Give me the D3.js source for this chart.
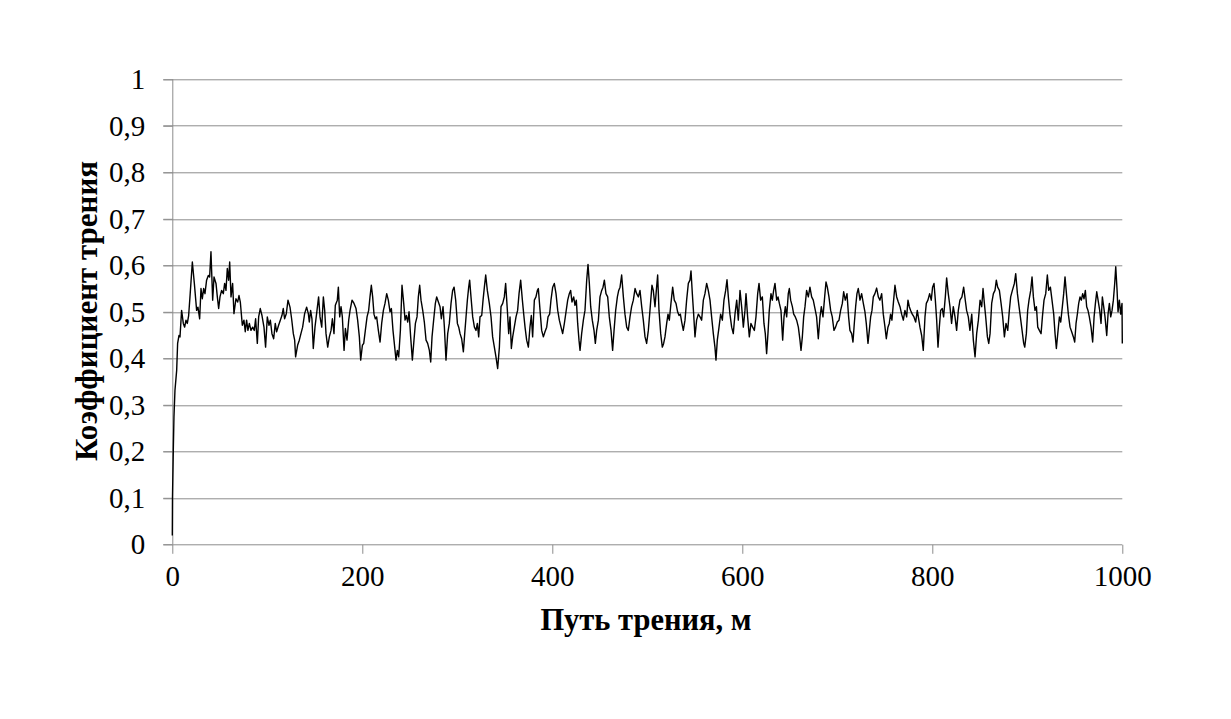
<!DOCTYPE html>
<html>
<head>
<meta charset="utf-8">
<script src="https://cdn.jsdelivr.net/npm/d3@7"></script>
<style>
  body { margin: 0; background: #fff; }
  svg text { font-family: "Liberation Serif", "Times New Roman", serif; fill: #000; }
</style>
</head>
<body>
<div id="chart"></div>
<script>
// friction test: coefficient vs sliding distance

var xTicks = [0, 200, 400, 600, 800, 1000];
var yTicks = [0, 0.1, 0.2, 0.3, 0.4, 0.5, 0.6, 0.7, 0.8, 0.9, 1];
var yTickLabels = ["0", "0,1", "0,2", "0,3", "0,4", "0,5", "0,6", "0,7", "0,8", "0,9", "1"];
var xTitle = "Путь трения, м";
var yTitle = "Коэффициент трения";

// distance, m
var pathM = [
  0, 0.2, 1.05, 1.75, 2.8, 4.6, 5.6, 7.0, 8.1, 9.8, 11.6, 13.0, 14.4, 15.8, 17.2, 18.6, 21.1, 23.2, 25.6, 27.0,
  28.8, 30.2, 31.6, 33.0, 34.4, 36.1, 37.9, 39.3, 40.7, 42.5, 43.9, 46.0, 47.4, 48.8, 50.2, 51.9, 53.7, 55.1, 56.5, 57.9,
  59.3, 60.4, 61.8, 63.5, 64.9, 67.0, 68.8, 70.2, 71.6, 73.7, 75.4, 76.8, 78.2, 79.6, 81.1, 82.8, 84.6, 86.3, 87.7, 89.5,
  90.9, 92.6, 94.4, 96.5, 98.2, 100.0, 101.8, 103.2, 104.9, 106.7, 108.4, 109.8, 111.9, 113.7, 115.4, 116.8, 118.2, 120.0, 121.8, 123.9,
  125.6, 127.4, 128.8, 129.8, 131.9, 133.7, 135.4, 137.2, 139.3, 141.4, 143.2, 144.2, 145.6, 147.0, 148.4, 150.2, 151.9, 154.0,
  155.5, 157.3, 159.0, 160.4, 161.8, 163.6, 165.3, 167.1, 168.5, 170.2, 171.6, 173.7, 174.8, 176.2, 177.6, 179.0, 180.8, 182.2, 183.9, 185.7,
  187.1, 189.2, 191.3, 193.4, 195.1, 196.9, 198.3, 200.1, 201.5, 203.2, 205.0, 206.7, 208.1, 209.5, 210.9, 212.3, 213.7, 215.1, 216.9, 218.7,
  220.4, 222.2, 223.9, 225.7, 227.4, 229.2, 230.6, 232.3, 233.7, 235.5, 236.9, 238.3, 240.1, 241.8, 243.6, 245.0, 246.4, 247.8, 249.2, 250.9,
  252.7, 254.4, 255.9, 257.6, 259.0, 260.4, 261.8, 263.6, 265.3, 267.1, 268.8, 270.6, 272.0, 273.4, 275.1, 276.9, 278.3, 280.1, 281.8, 283.2,
  285.0, 286.4, 288.1, 289.9, 291.6, 293.4, 295.1, 296.6, 298.3, 300.1, 301.5, 302.9, 304.6, 306.4, 307.8, 309.2, 310.6, 312.0, 313.0, 314.4,
  316.2, 318.0, 319.7, 321.1, 322.5, 323.9, 325.7, 327.1, 328.5, 329.9,
  331.6, 333.7, 335.5, 337.2, 339.0, 340.7, 342.5, 344.3, 346.0, 347.8, 349.5, 350.9, 352.7, 354.1, 355.5, 356.9, 358.3, 360.0, 361.8, 363.5,
  365.0, 366.7, 368.5, 369.9, 371.3, 373.0, 374.8, 376.5, 377.9, 379.3, 381.1, 382.8, 384.3, 385.3, 387.1, 388.8, 390.6, 392.3, 394.1, 395.5,
  397.2, 398.6, 400.4, 402.1, 403.9, 405.7, 407.4, 409.2, 410.9, 412.7, 414.1, 416.2, 417.9, 419.3, 420.7, 422.5, 423.9, 425.3, 426.7, 428.1,
  429.2, 430.9, 432.7, 434.4, 436.2, 437.6, 439.0, 440.4, 442.1, 443.9, 445.3, 446.7, 448.5, 450.2, 452.0, 453.4, 454.8, 456.5, 458.3, 460.0,
  461.8, 463.5, 465.0, 466.7, 468.5, 469.9, 471.3, 473.0, 474.8, 476.5, 478.3, 480.0, 481.8, 483.5, 485.3, 487.1, 488.8, 490.6, 492.3, 494.1,
  495.8, 497.6, 499.3,
  501.1, 502.8, 504.9, 506.3, 508.1, 509.8, 510.9, 512.3, 514.1, 515.8, 517.2, 518.6, 520.4, 521.8, 523.2, 524.9, 526.7, 528.4, 530.2, 531.9,
  533.4, 534.8, 536.2, 537.9, 539.7, 541.4, 543.2, 544.9, 546.0, 547.4, 548.8, 550.2, 551.9, 553.7, 555.5, 557.2, 559.0, 560.7, 562.5, 564.2,
  566.0, 567.7, 569.5, 571.2, 572.3, 573.7, 575.5, 577.2, 579.0, 580.7, 582.5, 583.9, 585.3, 587.0, 588.8, 590.5, 592.3, 594.1, 595.8, 597.6,
  599.3, 601.1, 602.8, 603.9, 605.6, 607.4, 609.1, 610.9, 612.7, 614.4, 616.2, 617.6, 619.3, 621.1, 622.8, 624.2, 625.6, 627.0, 628.4, 630.2,
  631.6, 633.0, 634.4, 636.2, 637.6, 639.0, 640.7, 642.5, 643.9, 645.3, 646.7, 648.4, 649.5, 650.9, 652.7, 654.1, 655.8, 657.2, 659.0, 660.7,
  661.8, 663.2, 664.6, 666.0, 667.7, 669.5,
  671.2, 673.0, 674.7, 676.5, 678.2, 680.0, 681.8, 683.2, 684.9, 686.7, 688.1, 689.5, 691.2, 693.0, 694.7, 696.5, 698.2, 700.0, 701.8, 703.5,
  705.3, 706.7, 708.4, 710.2, 711.9, 713.3, 715.1, 716.5, 717.9, 719.3, 720.7, 722.1, 723.9, 725.6, 727.4, 729.1, 730.5, 732.3, 733.7, 735.1,
  736.5, 737.9, 739.6, 741.4, 743.2, 744.9, 746.7, 748.4, 750.2, 751.6, 753.3, 754.7, 756.1, 757.5, 759.3, 760.7, 762.5, 764.2, 766.0, 767.7,
  769.5, 771.2, 773.0, 774.4, 775.8, 777.2, 778.9, 780.7, 782.5, 784.2, 785.3, 787.0, 788.8, 790.5, 792.3, 793.7, 795.4, 797.2, 798.9, 800.3,
  801.8, 803.2, 804.6, 806.0, 807.4, 808.8, 810.5, 811.9, 813.7, 815.1, 816.8, 818.6, 820.3, 822.1, 823.9, 825.6, 827.4, 829.1, 831.2, 833.0,
  834.7, 836.1, 837.9, 839.6,
  841.5, 843.2, 845.0, 846.7, 848.5, 850.3, 852.0, 853.4, 854.8, 856.2, 858.0, 859.4, 860.8, 862.5, 864.3, 866.0, 867.4, 868.8, 870.6, 872.4,
  874.1, 875.9, 877.6, 879.4, 881.1, 882.5, 884.3, 886.4, 887.8, 889.6, 891.3, 892.7, 894.5, 896.2, 897.3, 899.0, 900.4, 901.8, 903.6, 905.0,
  906.4, 908.1, 909.6, 911.0, 912.7, 914.5, 915.9, 917.6, 919.4, 921.1, 922.5, 924.3, 926.0, 927.8, 929.2, 930.6, 932.4, 933.8, 935.2, 936.9,
  938.3, 939.7, 941.5, 943.2, 945.0, 946.7, 948.5, 949.9, 951.3, 952.7, 954.1, 955.5, 956.9, 958.3, 959.7, 961.1, 962.5, 963.9, 965.3, 967.1,
  968.8, 970.3, 971.7, 973.1, 974.5, 976.2, 977.6, 979.0, 980.4, 981.8, 983.6, 985.0, 986.4, 987.8, 989.2, 990.6, 992.0, 993.1, 994.5, 995.5,
  996.9, 998.3, 999.7, 1000
];

// friction coefficient
var frictionCoef = [
  0.019, 0.102, 0.202, 0.274, 0.331, 0.374, 0.432, 0.449, 0.446, 0.503, 0.475, 0.467, 0.482, 0.475, 0.492, 0.532, 0.607, 0.561, 0.503, 0.510,
  0.485, 0.550, 0.528, 0.550, 0.539, 0.568, 0.578, 0.575, 0.629, 0.525, 0.575, 0.561, 0.532, 0.507, 0.532, 0.546, 0.539, 0.561, 0.546, 0.593,
  0.568, 0.607, 0.532, 0.561, 0.496, 0.528, 0.521, 0.535, 0.521, 0.471, 0.482, 0.457, 0.482, 0.460, 0.475, 0.460, 0.467, 0.460, 0.485, 0.432,
  0.489, 0.507, 0.492, 0.467, 0.424, 0.489, 0.471, 0.482, 0.453, 0.442, 0.475, 0.457, 0.471, 0.482, 0.492, 0.507, 0.485, 0.496, 0.525, 0.510,
  0.485, 0.453, 0.439, 0.403, 0.428, 0.439, 0.453, 0.467, 0.496, 0.510, 0.496, 0.478, 0.503, 0.485, 0.421, 0.467, 0.496, 0.532,
  0.489, 0.467, 0.532, 0.503, 0.453, 0.424, 0.446, 0.460, 0.485, 0.453, 0.514, 0.525, 0.553, 0.489, 0.511, 0.489, 0.417, 0.464, 0.439, 0.482,
  0.503, 0.525, 0.518, 0.507, 0.482, 0.446, 0.396, 0.428, 0.432, 0.460, 0.489, 0.503, 0.532, 0.557, 0.532, 0.495, 0.485, 0.489, 0.460, 0.435,
  0.475, 0.503, 0.518, 0.539, 0.525, 0.500, 0.507, 0.460, 0.432, 0.396, 0.417, 0.403, 0.460, 0.557, 0.518, 0.482, 0.492, 0.478, 0.500, 0.446,
  0.396, 0.439, 0.475, 0.489, 0.532, 0.557, 0.525, 0.503, 0.478, 0.439, 0.432, 0.417, 0.392, 0.446, 0.482, 0.518, 0.532, 0.521, 0.511, 0.485,
  0.511, 0.467, 0.396, 0.453, 0.475, 0.518, 0.546, 0.553, 0.525, 0.475, 0.467, 0.453, 0.442, 0.414, 0.453, 0.489, 0.525, 0.553, 0.568, 0.532,
  0.489, 0.467, 0.460, 0.475, 0.446, 0.489, 0.492, 0.525, 0.553, 0.579,
  0.546, 0.518, 0.489, 0.446, 0.424, 0.403, 0.378, 0.424, 0.511, 0.518, 0.532, 0.561, 0.503, 0.453, 0.489, 0.421, 0.446, 0.467, 0.489, 0.503,
  0.539, 0.568, 0.525, 0.495, 0.467, 0.439, 0.424, 0.467, 0.492, 0.446, 0.525, 0.532, 0.546, 0.550, 0.503, 0.460, 0.446, 0.457, 0.467, 0.489,
  0.495, 0.525, 0.553, 0.561, 0.539, 0.503, 0.482, 0.467, 0.453, 0.475, 0.495, 0.525, 0.539, 0.546, 0.521, 0.532, 0.514, 0.525, 0.475, 0.439,
  0.417, 0.453, 0.482, 0.503, 0.568, 0.602, 0.561, 0.511, 0.482, 0.460, 0.432, 0.460, 0.482, 0.532, 0.546, 0.553, 0.568, 0.539, 0.532, 0.489,
  0.460, 0.417, 0.460, 0.503, 0.532, 0.546, 0.553, 0.579, 0.532, 0.495, 0.467, 0.460, 0.489, 0.511, 0.525, 0.550, 0.539, 0.532, 0.546, 0.511,
  0.482, 0.446, 0.432,
  0.460, 0.503, 0.557, 0.546, 0.511, 0.553, 0.579, 0.503, 0.453, 0.424, 0.432, 0.446, 0.475, 0.495, 0.482, 0.518, 0.553, 0.525, 0.518, 0.500,
  0.492, 0.495, 0.478, 0.460, 0.482, 0.525, 0.561, 0.568, 0.588, 0.539, 0.495, 0.446, 0.482, 0.495, 0.489, 0.482, 0.525, 0.539, 0.561, 0.546,
  0.525, 0.489, 0.453, 0.424, 0.396, 0.439, 0.467, 0.495, 0.482, 0.525, 0.546, 0.569, 0.532, 0.495, 0.467, 0.453, 0.495, 0.525, 0.482, 0.546,
  0.511, 0.467, 0.503, 0.539, 0.489, 0.446, 0.475, 0.467, 0.460, 0.489, 0.539, 0.561, 0.525, 0.532, 0.475, 0.453, 0.410, 0.453, 0.503, 0.539,
  0.525, 0.546, 0.561, 0.525, 0.532, 0.518, 0.503, 0.439, 0.489, 0.511, 0.489, 0.539, 0.550, 0.525, 0.511, 0.495, 0.489, 0.482, 0.467, 0.439,
  0.417, 0.446, 0.489, 0.511, 0.546, 0.532,
  0.553, 0.532, 0.525, 0.507, 0.489, 0.442, 0.489, 0.511, 0.489, 0.532, 0.564, 0.553, 0.532, 0.503, 0.489, 0.460, 0.467, 0.478, 0.482, 0.503,
  0.518, 0.543, 0.525, 0.539, 0.489, 0.460, 0.453, 0.435, 0.475, 0.511, 0.539, 0.550, 0.525, 0.539, 0.518, 0.500, 0.475, 0.432, 0.460, 0.489,
  0.503, 0.532, 0.539, 0.551, 0.532, 0.525, 0.539, 0.495, 0.467, 0.442, 0.467, 0.475, 0.495, 0.482, 0.525, 0.557, 0.532, 0.521, 0.511, 0.495,
  0.482, 0.503, 0.489, 0.525, 0.511, 0.503, 0.495, 0.489, 0.478, 0.503, 0.489, 0.467, 0.449, 0.417, 0.489, 0.518, 0.525, 0.539, 0.525, 0.553,
  0.561, 0.525, 0.482, 0.424, 0.467, 0.503, 0.507, 0.489, 0.532, 0.573, 0.539, 0.511, 0.475, 0.511, 0.489, 0.460, 0.503, 0.525, 0.532, 0.553,
  0.525, 0.503, 0.489, 0.460,
  0.495, 0.439, 0.403, 0.453, 0.482, 0.525, 0.511, 0.550, 0.518, 0.489, 0.446, 0.432, 0.453, 0.518, 0.539, 0.546, 0.568, 0.553, 0.546, 0.518,
  0.489, 0.446, 0.475, 0.460, 0.503, 0.532, 0.546, 0.561, 0.582, 0.539, 0.511, 0.489, 0.460, 0.432, 0.424, 0.453, 0.503, 0.525, 0.546, 0.575,
  0.532, 0.503, 0.511, 0.467, 0.460, 0.453, 0.489, 0.525, 0.539, 0.579, 0.546, 0.553, 0.525, 0.495, 0.453, 0.421, 0.460, 0.489, 0.478, 0.511,
  0.539, 0.575, 0.532, 0.495, 0.467, 0.457, 0.446, 0.435, 0.475, 0.495, 0.518, 0.532, 0.525, 0.539, 0.528, 0.546, 0.511, 0.503, 0.489, 0.467,
  0.435, 0.489, 0.518, 0.543, 0.525, 0.503, 0.475, 0.532, 0.511, 0.489, 0.449, 0.495, 0.518, 0.489, 0.503, 0.525, 0.561, 0.597, 0.546, 0.500,
  0.525, 0.495, 0.518, 0.432
];

var W = 1231, H = 719;
var margin = { top: 79.3, left: 172.3 };
var width = 950, height = 465;

var svg = d3.select("#chart").append("svg")
  .attr("width", W)
  .attr("height", H);

var g = svg.append("g")
  .attr("transform", "translate(" + margin.left + "," + margin.top + ")");

var x = d3.scaleLinear().domain([0, 1000]).range([0, width]);
var y = d3.scaleLinear().domain([0, 1]).range([height, 0]);

// horizontal grid
g.selectAll("line.grid")
  .data(yTicks)
  .enter().append("line")
    .attr("class", "grid")
    .attr("x1", -9)
    .attr("x2", width)
    .attr("y1", d => Math.round(y(d)) + 0.5)
    .attr("y2", d => Math.round(y(d)) + 0.5)
    .attr("stroke", "#8c8c8c")
    .attr("stroke-width", 1);

// y axis
var yAxis = g.append("g")
  .call(d3.axisLeft(y)
    .tickValues(yTicks)
    .tickSize(9)
    .tickFormat((d, i) => yTickLabels[i]));

// x axis
var xAxis = g.append("g")
  .attr("transform", "translate(0," + (Math.round(height) + 0.5) + ")")
  .call(d3.axisBottom(x)
    .tickValues(xTicks)
    .tickSize(9)
    .tickFormat(d3.format("d")));

[yAxis, xAxis].forEach(function(ax) {
  ax.select(".domain").attr("stroke", "#8c8c8c");
  ax.selectAll(".tick line").attr("stroke", "#8c8c8c");
  ax.selectAll("text")
    .attr("font-family", "Liberation Serif, Times New Roman, serif")
    .attr("font-size", 29)
    .attr("fill", "#000");
});
yAxis.select(".domain").attr("d", "M0.5," + height + "V0");
yAxis.selectAll(".tick line").attr("x1", 0.5);
yAxis.selectAll("text").attr("x", -27).attr("dy", "0.33em");
xAxis.select(".domain").remove();
xAxis.selectAll(".tick line").attr("x1", 0).attr("x2", 0);
xAxis.selectAll("text").attr("y", 21).attr("dy", "0.71em");

// data line
var line = d3.line()
  .x(d => x(d[0]))
  .y(d => y(d[1]));

g.append("path")
  .datum(d3.zip(pathM, frictionCoef))
  .attr("fill", "none")
  .attr("stroke", "#000")
  .attr("stroke-width", 1.4)
  .attr("stroke-linejoin", "round")
  .attr("d", line);

// titles
svg.append("text")
  .attr("x", 646)
  .attr("y", 630)
  .attr("text-anchor", "middle")
  .attr("font-size", 30.5)
  .attr("font-weight", "bold")
  .text(xTitle);

svg.append("text")
  .attr("transform", "translate(97,311) rotate(-90)")
  .attr("text-anchor", "middle")
  .attr("font-size", 31)
  .attr("font-weight", "bold")
  .text(yTitle);
</script>
</body>
</html>
